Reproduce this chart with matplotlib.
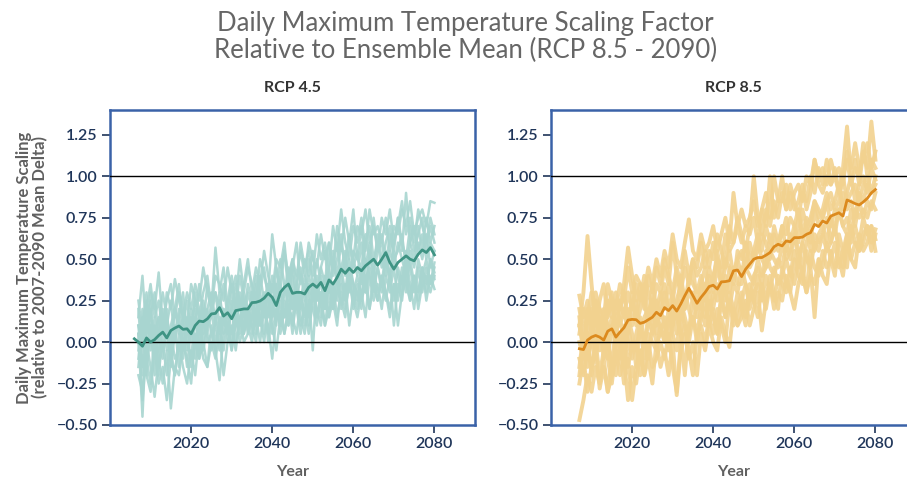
import matplotlib.pyplot as plt

plt.rcParams['font.family'] = ['Lato', 'DejaVu Sans']

# ---- data ----
years_45 = list(range(2007, 2081))
years_45_mean = list(range(2006, 2081))
years_85 = list(range(2007, 2081))

mean_45 = [0.02, 0.00, -0.025, 0.025, 0.00, 0.015, 0.04, 0.06, 0.025, 0.07,
           0.085, 0.097, 0.077, 0.08, 0.05, 0.10, 0.127, 0.123, 0.14, 0.17,
           0.173, 0.208, 0.157, 0.177, 0.141, 0.19, 0.195, 0.20, 0.20, 0.238,
           0.24, 0.248, 0.265, 0.294, 0.27, 0.22, 0.30, 0.33, 0.35, 0.294,
           0.30, 0.30, 0.29, 0.33, 0.35, 0.33, 0.36, 0.31, 0.375, 0.35,
           0.39, 0.44, 0.415, 0.445, 0.42, 0.45, 0.43, 0.46, 0.48, 0.50,
           0.464, 0.50, 0.54, 0.48, 0.44, 0.48, 0.50, 0.52, 0.50, 0.49,
           0.53, 0.556, 0.54, 0.57, 0.526]

members_45 = [
    [0.05, -0.45, 0.10, 0.20, -0.10, 0.05, 0.15, -0.05, 0.10, 0.20,
     0.05, 0.15, -0.05, 0.10, 0.25, 0.15, 0.05, 0.20, 0.30, 0.10,
     0.25, 0.15, 0.05, 0.20, 0.35, 0.25, 0.10, 0.30, 0.20, 0.40,
     0.30, 0.15, 0.35, 0.25, 0.10, 0.40, 0.55, 0.30, 0.20, 0.35,
     0.45, 0.25, 0.40, 0.30, 0.50, 0.35, 0.20, 0.45, 0.55, 0.40,
     0.60, 0.45, 0.35, 0.55, 0.50, 0.70, 0.45, 0.60, 0.40, 0.55,
     0.65, 0.50, 0.40, 0.60, 0.75, 0.55, 0.90, 0.60, 0.50, 0.70,
     0.55, 0.75, 0.60, 0.70],
    [-0.10, 0.15, -0.20, -0.30, -0.05, -0.25, -0.15, -0.35, -0.10, -0.20,
     0.00, -0.15, -0.25, -0.05, -0.20, 0.05, -0.10, -0.15, 0.00, -0.10,
     0.05, -0.20, 0.00, 0.10, -0.05, 0.15, 0.00, 0.05, 0.20, 0.05,
     0.15, 0.00, 0.20, 0.10, -0.05, 0.15, 0.05, 0.20, 0.10, 0.25,
     0.10, 0.20, 0.05, 0.25, 0.15, 0.30, 0.10, 0.20, 0.35, 0.15,
     0.30, 0.20, 0.35, 0.25, 0.15, 0.30, 0.40, 0.20, 0.35, 0.25,
     0.40, 0.30, 0.20, 0.35, 0.10, 0.30, 0.40, 0.25, 0.35, 0.30,
     0.45, 0.25, 0.40, 0.32],
    [0.15, 0.40, 0.05, 0.30, 0.20, 0.42, 0.10, 0.25, 0.35, 0.15,
     0.30, 0.20, 0.10, 0.35, 0.25, 0.15, 0.30, 0.40, 0.20, 0.57,
     0.30, 0.45, 0.20, 0.35, 0.25, 0.50, 0.30, 0.45, 0.35, 0.25,
     0.50, 0.40, 0.30, 0.65, 0.45, 0.30, 0.55, 0.40, 0.50, 0.35,
     0.60, 0.45, 0.55, 0.40, 0.65, 0.50, 0.60, 0.45, 0.70, 0.55,
     0.80, 0.60, 0.50, 0.70, 0.60, 0.75, 0.55, 0.80, 0.65, 0.70,
     0.60, 0.75, 0.55, 0.70, 0.65, 0.80, 0.70, 0.85, 0.65, 0.75,
     0.80, 0.70, 0.85, 0.84],
    [0.20, -0.15, 0.25, 0.00, 0.10, -0.10, 0.15, 0.05, -0.05, 0.20,
     0.10, -0.05, 0.15, 0.00, 0.20, 0.05, 0.25, 0.10, 0.15, 0.30,
     0.10, 0.20, 0.00, 0.25, 0.15, 0.05, 0.30, 0.20, 0.10, 0.35,
     0.20, 0.30, 0.15, 0.35, 0.25, 0.10, 0.30, 0.45, 0.20, 0.35,
     0.25, 0.40, 0.30, -0.05, 0.35, 0.25, 0.40, 0.30, 0.50, 0.35,
     0.45, 0.55, 0.30, 0.50, 0.40, 0.60, 0.35, 0.50, 0.45, 0.65,
     0.50, 0.40, 0.55, 0.45, 0.60, 0.50, 0.40, 0.55, 0.45, 0.60,
     0.50, 0.65, 0.45, 0.55],
    [-0.20, -0.30, 0.00, -0.15, -0.33, -0.10, -0.25, -0.05, -0.40, -0.15,
     -0.20, 0.00, -0.10, -0.25, 0.05, -0.10, 0.00, -0.15, 0.10, -0.05,
     -0.23, 0.05, 0.10, -0.05, 0.15, 0.00, 0.10, 0.20, 0.05, 0.15,
     0.00, 0.20, 0.10, -0.10, 0.15, 0.25, 0.05, 0.20, 0.15, 0.30,
     0.15, 0.05, 0.25, 0.20, 0.10, 0.30, 0.20, 0.35, 0.25, 0.10,
     0.35, 0.25, 0.40, 0.30, 0.20, 0.40, 0.30, 0.45, 0.35, 0.25,
     0.40, 0.30, 0.15, 0.35, 0.30, 0.45, 0.35, 0.25, 0.40, 0.30,
     0.45, 0.35, 0.50, 0.38],
    [0.10, 0.00, 0.20, 0.35, 0.15, 0.25, 0.05, 0.30, 0.20, 0.38,
     0.25, 0.15, 0.30, 0.20, 0.35, 0.25, 0.45, 0.30, 0.20, 0.40,
     0.35, 0.25, 0.45, 0.30, 0.40, 0.20, 0.35, 0.50, 0.30, 0.45,
     0.35, 0.55, 0.40, 0.30, 0.50, 0.45, 0.60, 0.35, 0.50, 0.40,
     0.55, 0.40, 0.60, 0.50, 0.45, 0.65, 0.50, 0.60, 0.45, 0.70,
     0.55, 0.75, 0.60, 0.50, 0.70, 0.65, 0.80, 0.60, 0.70, 0.55,
     0.75, 0.65, 0.80, 0.60, 0.70, 0.85, 0.65, 0.75, 0.60, 0.80,
     0.70, 0.60, 0.75, 0.65],
    [0.00, -0.10, -0.20, 0.10, -0.05, -0.15, 0.00, -0.20, 0.05, -0.10,
     -0.05, 0.05, -0.15, 0.10, 0.00, -0.10, 0.15, 0.00, 0.05, -0.05,
     0.15, 0.05, 0.20, 0.00, 0.10, 0.25, 0.05, 0.15, 0.30, 0.10,
     0.20, 0.05, 0.25, 0.15, 0.30, 0.05, 0.20, 0.10, 0.30, 0.20,
     0.05, 0.25, 0.15, 0.30, 0.20, 0.10, 0.30, 0.15, 0.25, 0.40,
     0.20, 0.35, 0.10, 0.30, 0.40, 0.25, 0.35, 0.20, 0.45, 0.30,
     0.35, 0.25, 0.40, 0.10, 0.35, 0.25, 0.45, 0.30, 0.40, 0.20,
     0.35, 0.40, 0.30, 0.40],
    [0.25, 0.05, -0.10, 0.15, 0.30, 0.00, 0.20, 0.10, 0.25, 0.00,
     0.15, 0.30, 0.05, 0.20, 0.10, 0.35, 0.15, 0.05, 0.25, 0.15,
     0.30, 0.10, 0.25, 0.40, 0.20, 0.30, 0.15, 0.35, 0.25, 0.15,
     0.40, 0.25, 0.35, 0.20, 0.45, 0.30, 0.15, 0.35, 0.45, 0.25,
     0.40, 0.30, 0.50, 0.35, 0.25, 0.45, 0.55, 0.30, 0.45, 0.60,
     0.40, 0.50, 0.65, 0.45, 0.55, 0.35, 0.60, 0.70, 0.50, 0.60,
     0.45, 0.60, 0.70, 0.50, 0.55, 0.65, 0.45, 0.60, 0.70, 0.55,
     0.65, 0.50, 0.60, 0.55],
    [-0.05, 0.20, -0.10, -0.25, 0.05, 0.15, -0.05, 0.10, -0.15, 0.05,
     0.20, -0.05, 0.05, 0.15, -0.10, 0.10, 0.00, 0.20, 0.05, 0.10,
     -0.05, 0.15, 0.10, 0.05, 0.25, 0.10, 0.20, 0.05, 0.15, 0.30,
     0.10, 0.25, 0.05, 0.20, 0.35, 0.15, 0.25, 0.10, 0.40, 0.20,
     0.30, 0.15, 0.35, 0.25, 0.40, 0.15, 0.30, 0.45, 0.20, 0.30,
     0.45, 0.30, 0.50, 0.35, 0.25, 0.45, 0.30, 0.55, 0.35, 0.45,
     0.30, 0.50, 0.35, 0.55, 0.40, 0.30, 0.50, 0.35, 0.20, 0.45,
     0.30, 0.45, 0.35, 0.45],
    [0.10, -0.20, 0.05, 0.25, -0.05, 0.10, 0.30, 0.15, 0.00, 0.20,
     0.35, 0.10, 0.25, 0.05, 0.30, 0.20, 0.10, 0.35, 0.20, 0.30,
     0.20, 0.35, 0.15, 0.30, 0.20, 0.40, 0.25, 0.10, 0.30, 0.20,
     0.30, 0.45, 0.25, 0.40, 0.30, 0.50, 0.35, 0.25, 0.45, 0.60,
     0.35, 0.50, 0.40, 0.55, 0.30, 0.45, 0.35, 0.60, 0.40, 0.50,
     0.65, 0.40, 0.60, 0.80, 0.50, 0.45, 0.65, 0.50, 0.75, 0.55,
     0.60, 0.45, 0.65, 0.55, 0.75, 0.60, 0.50, 0.70, 0.55, 0.65,
     0.75, 0.55, 0.70, 0.60],
    [-0.15, 0.10, 0.30, -0.05, 0.15, -0.20, 0.05, 0.20, -0.10, 0.10,
     -0.15, 0.10, 0.00, -0.10, 0.15, -0.05, 0.20, 0.05, -0.05, 0.15,
     0.05, 0.20, 0.10, -0.05, 0.15, 0.25, 0.05, 0.20, 0.10, 0.00,
     0.25, 0.15, 0.30, 0.05, 0.20, 0.35, 0.15, 0.25, 0.05, 0.30,
     0.20, 0.35, 0.10, 0.30, 0.25, 0.40, 0.25, 0.15, 0.35, 0.25,
     0.40, 0.25, 0.45, 0.35, 0.30, 0.20, 0.50, 0.40, 0.30, 0.45,
     0.35, 0.55, 0.40, 0.25, 0.45, 0.35, 0.55, 0.45, 0.30, 0.50,
     0.40, 0.30, 0.50, 0.42],
    [0.05, -0.35, -0.05, 0.10, -0.20, 0.00, -0.10, 0.15, -0.05, -0.20,
     0.05, -0.10, 0.10, -0.15, 0.00, 0.15, -0.05, 0.10, 0.20, 0.00,
     0.10, -0.05, 0.15, 0.20, 0.00, 0.15, 0.25, 0.10, 0.00, 0.20,
     0.10, 0.25, 0.00, 0.15, 0.20, 0.10, 0.35, 0.20, 0.15, 0.05,
     0.25, 0.10, 0.20, 0.35, 0.15, 0.25, 0.10, 0.30, 0.20, 0.35,
     0.25, 0.15, 0.40, 0.20, 0.35, 0.30, 0.15, 0.40, 0.25, 0.35,
     0.20, 0.40, 0.30, 0.45, 0.25, 0.40, 0.30, 0.50, 0.35, 0.25,
     0.40, 0.50, 0.35, 0.48],
]

mean_85 = [-0.04, -0.045, 0.012, 0.03, 0.04, 0.03, 0.012, 0.066, 0.08, 0.03,
           0.06, 0.087, 0.133, 0.137, 0.135, 0.113, 0.12, 0.135, 0.15, 0.18,
           0.16, 0.208, 0.19, 0.22, 0.187, 0.23, 0.28, 0.325, 0.28, 0.234,
           0.27, 0.30, 0.335, 0.343, 0.32, 0.363, 0.365, 0.37, 0.43, 0.435,
           0.395, 0.44, 0.47, 0.50, 0.51, 0.51, 0.524, 0.54, 0.575, 0.59,
           0.58, 0.61, 0.605, 0.63, 0.63, 0.633, 0.65, 0.66, 0.71, 0.697,
           0.73, 0.718, 0.76, 0.77, 0.78, 0.76, 0.857, 0.847, 0.835, 0.827,
           0.845, 0.867, 0.90, 0.92]

members_85 = [
    [0.10, 0.30, 0.64, 0.35, 0.10, 0.20, 0.05, 0.25, 0.15, 0.30,
     0.20, 0.35, 0.57, 0.40, 0.25, 0.35, 0.20, 0.40, 0.30, 0.45,
     0.35, 0.50, 0.40, 0.30, 0.45, 0.35, 0.55, 0.40, 0.50, 0.45,
     0.60, 0.45, 0.55, 0.50, 0.65, 0.55, 0.45, 0.70, 0.60, 0.75,
     0.65, 0.55, 0.70, 1.00, 0.75, 0.65, 0.80, 0.70, 0.85, 0.75,
     0.90, 0.80, 0.95, 0.85, 0.75, 0.90, 0.85, 1.00, 0.90, 1.05,
     0.95, 1.10, 0.95, 1.00, 0.90, 1.05, 1.30, 1.00, 1.10, 0.95,
     1.15, 1.05, 1.33, 1.10],
    [-0.47, -0.35, -0.20, -0.30, -0.15, -0.25, -0.10, -0.30, -0.20, -0.05,
     -0.20, -0.10, -0.35, -0.15, -0.25, -0.05, -0.20, 0.00, -0.15, -0.10,
     0.00, -0.10, 0.05, -0.15, -0.30, 0.00, 0.10, -0.05, -0.20, 0.05,
     0.10, 0.00, 0.15, 0.05, 0.20, 0.10, 0.00, 0.25, 0.15, 0.30,
     0.20, 0.10, 0.30, 0.25, 0.15, 0.35, 0.25, 0.40, 0.30, 0.20,
     0.45, 0.35, 0.30, 0.50, 0.40, 0.35, 0.55, 0.45, 0.15, 0.50,
     0.45, 0.60, 0.50, 0.40, 0.65, 0.55, 0.45, 0.70, 0.60, 0.55,
     0.65, 0.70, 0.60, 0.68],
    [0.28, 0.15, 0.25, 0.10, 0.30, 0.20, 0.15, 0.35, 0.25, 0.20,
     0.35, 0.25, 0.45, 0.30, 0.40, 0.35, 0.30, 0.45, 0.35, 0.50,
     0.40, 0.55, 0.45, 0.65, 0.50, 0.45, 0.60, 0.74, 0.55, 0.50,
     0.65, 0.55, 0.60, 0.70, 0.55, 0.65, 0.75, 0.60, 0.90, 0.70,
     0.80, 0.70, 0.75, 0.85, 0.70, 0.80, 0.90, 0.75, 1.00, 0.85,
     0.85, 0.95, 0.80, 0.90, 0.95, 0.85, 1.00, 0.95, 1.10, 1.00,
     1.05, 0.95, 1.10, 1.00, 1.05, 0.95, 1.15, 1.05, 1.20, 1.05,
     1.10, 1.20, 1.05, 1.15],
    [-0.25, -0.10, -0.30, -0.15, -0.05, -0.28, -0.15, -0.30, -0.10, -0.20,
     -0.05, -0.25, -0.10, -0.35, -0.15, -0.05, -0.20, -0.10, -0.25, 0.00,
     -0.15, -0.05, -0.20, 0.00, -0.32, -0.05, 0.05, -0.10, 0.00, -0.20,
     0.05, -0.05, 0.10, 0.00, -0.05, 0.15, 0.05, -0.03, 0.20, 0.10,
     0.15, 0.25, 0.10, 0.20, 0.30, 0.07, 0.25, 0.35, 0.20, 0.30,
     0.25, 0.40, 0.30, 0.20, 0.35, 0.45, 0.30, 0.40, 0.35, 0.50,
     0.40, 0.35, 0.55, 0.45, 0.50, 0.40, 0.60, 0.50, 0.45, 0.65,
     0.55, 0.60, 0.70, 0.55],
    [0.00, -0.10, 0.10, 0.20, -0.05, 0.05, 0.15, -0.10, 0.10, 0.05,
     0.15, 0.00, 0.20, 0.10, 0.25, 0.05, 0.15, 0.20, 0.10, 0.25,
     0.15, 0.30, 0.20, 0.10, 0.25, 0.35, 0.20, 0.30, 0.25, 0.15,
     0.35, 0.25, 0.40, 0.30, 0.45, 0.35, 0.25, 0.45, 0.40, 0.50,
     0.40, 0.55, 0.45, 0.50, 0.60, 0.50, 0.45, 0.65, 0.55, 0.60,
     0.70, 0.55, 0.65, 0.60, 0.75, 0.65, 0.70, 0.60, 0.80, 0.70,
     0.75, 0.85, 0.70, 0.80, 0.75, 0.90, 0.80, 0.85, 0.75, 0.90,
     0.85, 0.95, 0.90, 0.95],
    [-0.15, 0.05, -0.10, 0.00, 0.15, -0.05, 0.10, 0.00, -0.15, 0.10,
     -0.05, 0.10, 0.00, -0.10, 0.05, 0.15, 0.00, 0.10, 0.20, 0.05,
     0.20, 0.10, 0.00, 0.25, 0.15, 0.05, 0.30, 0.20, 0.10, 0.25,
     0.20, 0.35, 0.15, 0.30, 0.25, 0.40, 0.30, 0.20, 0.35, 0.30,
     0.45, 0.35, 0.25, 0.40, 0.45, 0.35, 0.55, 0.45, 0.40, 0.50,
     0.45, 0.60, 0.50, 0.65, 0.55, 0.45, 0.60, 0.70, 0.55, 0.65,
     0.70, 0.60, 0.75, 0.65, 0.80, 0.70, 0.65, 0.80, 0.70, 0.85,
     0.75, 0.85, 0.80, 0.90],
    [0.20, 0.05, 0.15, 0.30, 0.10, 0.25, 0.35, 0.15, 0.25, 0.10,
     0.25, 0.15, 0.30, 0.20, 0.35, 0.25, 0.40, 0.30, 0.20, 0.35,
     0.30, 0.45, 0.35, 0.60, 0.40, 0.30, 0.45, 0.35, 0.50, 0.40,
     0.45, 0.55, 0.45, 0.60, 0.50, 0.45, 0.65, 0.55, 0.60, 0.70,
     0.60, 0.70, 0.65, 0.75, 0.60, 0.80, 0.70, 1.00, 0.75, 0.85,
     1.00, 0.80, 0.90, 0.80, 0.85, 0.95, 0.80, 0.90, 1.10, 0.95,
     0.90, 1.00, 0.95, 1.05, 0.90, 1.00, 1.10, 0.95, 1.05, 1.00,
     1.20, 1.00, 1.10, 1.05],
    [-0.10, -0.20, -0.05, -0.15, 0.00, -0.20, -0.05, -0.10, -0.25, -0.05,
     -0.10, 0.05, -0.15, 0.00, -0.05, 0.10, -0.10, 0.05, 0.00, -0.05,
     0.10, 0.00, 0.15, 0.05, -0.05, 0.20, 0.10, 0.00, 0.15, 0.05,
     0.20, 0.10, 0.25, 0.15, 0.05, 0.25, 0.15, 0.30, 0.20, 0.10,
     0.25, 0.35, 0.20, 0.30, 0.35, 0.25, 0.40, 0.30, 0.45, 0.35,
     0.40, 0.50, 0.40, 0.55, 0.45, 0.60, 0.50, 0.45, 0.60, 0.55,
     0.65, 0.55, 0.60, 0.70, 0.55, 0.45, 0.65, 0.60, 0.70, 0.60,
     0.75, 0.65, 0.70, 0.62],
    [0.15, -0.05, 0.20, 0.05, 0.25, 0.10, 0.00, 0.20, 0.30, 0.05,
     0.20, 0.30, 0.10, 0.25, 0.15, 0.30, 0.25, 0.10, 0.35, 0.20,
     0.30, 0.20, 0.35, 0.25, 0.40, 0.30, 0.20, 0.40, 0.35, 0.30,
     0.40, 0.30, 0.45, 0.35, 0.55, 0.40, 0.50, 0.45, 0.35, 0.55,
     0.50, 0.60, 0.50, 0.55, 0.65, 0.55, 0.70, 0.60, 0.65, 0.55,
     0.70, 0.65, 0.75, 0.70, 0.60, 0.80, 0.70, 0.75, 0.85, 0.75,
     0.80, 0.90, 0.80, 0.85, 0.95, 0.80, 0.90, 1.00, 0.85, 0.95,
     1.00, 0.90, 1.05, 0.98],
    [-0.20, 0.00, -0.15, 0.05, -0.10, 0.10, -0.05, 0.05, -0.20, 0.00,
     0.05, -0.15, 0.10, -0.05, 0.00, -0.20, 0.05, -0.10, 0.10, 0.00,
     0.05, 0.15, -0.05, 0.10, 0.20, 0.05, -0.20, 0.10, 0.15, 0.00,
     0.15, 0.25, 0.10, 0.20, 0.05, 0.30, 0.15, 0.25, 0.10, 0.20,
     0.30, 0.15, 0.35, 0.25, 0.40, 0.30, 0.20, 0.35, 0.25, 0.40,
     0.35, 0.30, 0.45, 0.35, 0.50, 0.40, 0.30, 0.55, 0.45, 0.40,
     0.55, 0.45, 0.50, 0.60, 0.45, 0.55, 0.65, 0.50, 0.60, 0.55,
     0.60, 0.70, 0.55, 0.65],
    [0.05, 0.20, 0.00, 0.10, 0.25, 0.00, 0.20, 0.10, 0.05, 0.25,
     0.10, 0.20, 0.05, 0.30, 0.10, 0.20, 0.35, 0.15, 0.25, 0.10,
     0.25, 0.35, 0.20, 0.30, 0.15, 0.40, 0.25, 0.35, 0.45, 0.25,
     0.35, 0.45, 0.30, 0.40, 0.50, 0.35, 0.45, 0.55, 0.40, 0.50,
     0.55, 0.45, 0.60, 0.50, 0.55, 0.65, 0.60, 0.50, 0.70, 0.60,
     0.65, 0.75, 0.60, 0.70, 0.80, 0.65, 0.75, 0.70, 0.85, 0.80,
     0.75, 0.85, 0.90, 0.80, 0.85, 1.00, 0.85, 0.90, 0.95, 0.85,
     0.95, 1.00, 0.90, 1.00],
    [0.10, -0.05, 0.05, -0.20, 0.00, 0.15, -0.10, 0.05, 0.15, -0.05,
     0.00, -0.10, 0.15, 0.05, -0.15, 0.10, 0.00, 0.15, 0.05, 0.15,
     0.10, 0.00, 0.20, 0.15, 0.05, 0.25, 0.15, 0.05, 0.30, 0.20,
     0.25, 0.15, 0.30, 0.20, 0.35, 0.25, 0.40, 0.30, 0.45, 0.35,
     0.35, 0.45, 0.40, 0.35, 0.50, 0.40, 0.45, 0.55, 0.50, 0.45,
     0.60, 0.50, 0.55, 0.65, 0.50, 0.60, 0.70, 0.55, 0.65, 0.60,
     0.65, 0.75, 0.60, 0.70, 0.80, 0.70, 0.75, 0.65, 0.80, 0.75,
     0.80, 0.75, 0.85, 0.80],
]

panel_titles = ['RCP 4.5', 'RCP 8.5']
title = 'Daily Maximum Temperature Scaling Factor\nRelative to Ensemble Mean (RCP 8.5 - 2090)'
ylabel = 'Daily Maximum Temperature Scaling\n(relative to 2007-2090 Mean Delta)'
xticks = [2020, 2040, 2060, 2080]
yticks = [-0.5, -0.25, 0, 0.25, 0.5, 0.75, 1.0, 1.25]

# ---- style ----
frame_col = '#3a62a8'
tick_col = '#1f3559'
label_col = '#606060'
member_cols = ['#a8d5d0', '#f2d28f']
mean_cols = ['#3f9484', '#dc8a1e']
member_lw = [1.8, 2.8]

fig = plt.figure(figsize=(9.07, 4.80), dpi=100)
ax1 = fig.add_axes([0.1213, 0.1146, 0.4024, 0.6563])
ax2 = fig.add_axes([0.6075, 0.1146, 0.4024, 0.6563])

panels = [
    (ax1, years_45, members_45, years_45_mean, mean_45),
    (ax2, years_85, members_85, years_85, mean_85),
]

for i, (ax, yrs, members, myrs, mean) in enumerate(panels):
    for m in members:
        ax.plot(yrs, m, color=member_cols[i], lw=member_lw[i], alpha=0.9, zorder=2)
    ax.axhline(0, color='black', lw=1, zorder=3)
    ax.axhline(1, color='black', lw=1, zorder=3)
    ax.plot(myrs, mean, color=mean_cols[i], lw=2, zorder=4)

    ax.set_xlim(2000, 2090)
    ax.set_ylim(-0.5, 1.4)
    ax.set_xticks(xticks)
    ax.set_xticklabels([str(x) for x in xticks], fontweight='semibold')
    ax.set_yticks(yticks)
    ax.set_yticklabels([f'{v:.2f}'.replace('-', '\u2212') for v in yticks],
                       fontweight='semibold')
    ax.tick_params(colors=tick_col, labelsize=11.5, length=6, width=1.2,
                   direction='out', pad=3)
    for s in ax.spines.values():
        s.set_color(frame_col)
        s.set_linewidth(1.8)
    ax.set_title(panel_titles[i], fontsize=11.5, fontweight='bold',
                 color='#333333', pad=13)
    ax.set_xlabel('Year', fontsize=11.5, fontweight='bold', color=label_col,
                  labelpad=10)

ax1.set_ylabel(ylabel, fontsize=12, fontweight='bold', color=label_col,
               labelpad=6, linespacing=1.0)

fig.suptitle(title, x=0.513, y=0.978, fontsize=18.5, color='#666666',
             linespacing=1.1)

fig.savefig('out.png', dpi=100)
